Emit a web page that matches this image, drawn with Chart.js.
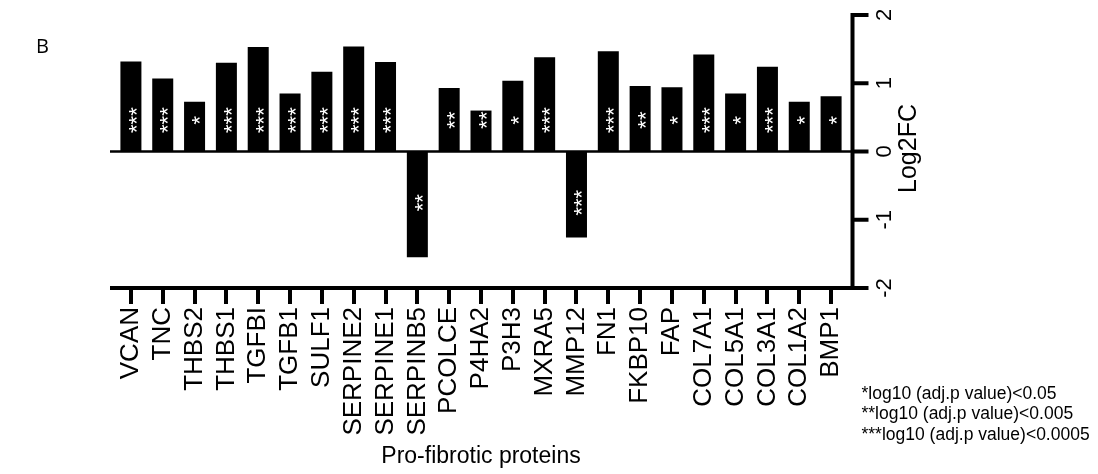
<!DOCTYPE html>
<html>
<head>
<meta charset="utf-8">
<script src="https://cdn.jsdelivr.net/npm/chart.js@4.4.1/dist/chart.umd.min.js"></script>
<style>
  html, body { margin: 0; padding: 0; background: #fff; }
  #wrap { width: 1098px; height: 474px; position: relative; }
</style>
</head>
<body>
<div id="wrap"><canvas id="c" width="1098" height="474"></canvas></div>
<script>
const categories = ['VCAN','TNC','THBS2','THBS1','TGFBI','TGFB1','SULF1','SERPINE2','SERPINE1','SERPINB5','PCOLCE','P4HA2','P3H3','MXRA5','MMP12','FN1','FKBP10','FAP','COL7A1','COL5A1','COL3A1','COL1A2','BMP1'];
const log2fc = [1.32, 1.07, 0.73, 1.30, 1.53, 0.85, 1.17, 1.54, 1.31, -1.55, 0.93, 0.60, 1.035, 1.38, -1.26, 1.47, 0.96, 0.94, 1.42, 0.85, 1.24, 0.73, 0.81];
const significance = ['***','***','*','***','***','***','***','***','***','**','**','**','*','***','***','***','**','*','***','*','***','*','*'];
const yTickValues = [-2, -1, 0, 1, 2];
const yTitle = 'Log2FC';
const xTitle = 'Pro-fibrotic proteins';
const footnotes = ['*log10 (adj.p value)<0.05', '**log10 (adj.p value)<0.005', '***log10 (adj.p value)<0.0005'];
const panelLetter = 'B';

const FONT = "'Liberation Sans', Arial, sans-serif";

const decorPlugin = {
  id: 'decor',
  afterDatasetsDraw(chart) {
    const ctx = chart.ctx;
    const xs = chart.scales.x, ys = chart.scales.y;
    const ca = chart.chartArea;
    const axisX = ca.right + 5.5;
    const left = ca.left - 5;
    const yTop = ys.getPixelForValue(2), yBot = ys.getPixelForValue(-2), y0 = ys.getPixelForValue(0);
    ctx.save();
    ctx.strokeStyle = '#000';
    // zero line
    ctx.lineWidth = 2.5;
    ctx.beginPath(); ctx.moveTo(left, y0); ctx.lineTo(axisX, y0); ctx.stroke();
    // x axis line
    ctx.lineWidth = 4;
    ctx.beginPath(); ctx.moveTo(left, yBot); ctx.lineTo(axisX + 2, yBot); ctx.stroke();
    // y axis line
    ctx.beginPath(); ctx.moveTo(axisX, yTop - 2); ctx.lineTo(axisX, yBot + 2); ctx.stroke();
    // y tick marks
    yTickValues.forEach(v => {
      const py = ys.getPixelForValue(v);
      ctx.beginPath(); ctx.moveTo(axisX, py); ctx.lineTo(axisX + 16, py); ctx.stroke();
    });
    // significance asterisks
    ctx.fillStyle = '#fff';
    const fs = 22;
    ctx.font = fs + 'px ' + FONT;
    ctx.textAlign = 'center';
    ctx.textBaseline = 'alphabetic';
    significance.forEach((s, i) => {
      const px = xs.getPixelForValue(i);
      const py = ys.getPixelForValue(log2fc[i] > 0 ? 0.46 : -0.75);
      ctx.save();
      ctx.translate(px, py);
      ctx.rotate(-Math.PI / 2);
      ctx.fillText(s, 0, fs * 0.58);
      ctx.restore();
    });
    // y title
    ctx.fillStyle = '#000';
    ctx.font = '25px ' + FONT;
    ctx.textBaseline = 'middle';
    ctx.save();
    ctx.translate(axisX + 57, (yTop + yBot) / 2 - 3);
    ctx.rotate(-Math.PI / 2);
    ctx.fillText(yTitle, 0, 0);
    ctx.restore();
    // footnotes
    ctx.font = '17.5px ' + FONT;
    ctx.textAlign = 'left';
    footnotes.forEach((t, i) => ctx.fillText(t, axisX + 9, 394 + i * 20.5));
    // panel letter
    ctx.font = "20px 'Open Sans', 'Noto Sans', sans-serif";
    ctx.fillText(panelLetter, 36, 47);
    ctx.restore();
  }
};

new Chart(document.getElementById('c'), {
  type: 'bar',
  data: {
    labels: categories,
    datasets: [{
      data: log2fc,
      backgroundColor: '#000',
      borderWidth: 0,
      barPercentage: 0.66,
      categoryPercentage: 1.0
    }]
  },
  options: {
    responsive: false,
    animation: false,
    devicePixelRatio: 1,
    layout: { padding: { left: 115, top: 15, right: 181, bottom: 0 } },
    plugins: { legend: { display: false }, tooltip: { enabled: false } },
    scales: {
      x: {
        position: 'bottom',
        offset: true,
        grid: { display: true, drawOnChartArea: false, drawTicks: true, tickLength: 16, lineWidth: 4, color: '#000', offset: false },
        border: { display: false },
        ticks: { autoSkip: false, minRotation: 90, maxRotation: 90, padding: 3, color: '#000', font: { family: FONT, size: 26 } },
        title: { display: true, text: xTitle, color: '#000', font: { family: FONT, size: 23 }, padding: { top: 0, bottom: 4 } },
        afterFit(scale) { scale.height = 186; }
      },
      y: {
        position: 'right',
        min: -2, max: 2,
        afterBuildTicks(scale) { scale.ticks = yTickValues.map(v => ({ value: v })); },
        grid: { display: true, drawOnChartArea: false, drawTicks: true, tickLength: 28, color: 'rgba(0,0,0,0)' },
        border: { display: false },
        ticks: { minRotation: 90, maxRotation: 90, crossAlign: 'center', padding: 0, color: '#000', font: { family: FONT, size: 22 } },
        afterFit(scale) { scale.width = 70; }
      }
    }
  },
  plugins: [decorPlugin]
});
</script>
</body>
</html>
